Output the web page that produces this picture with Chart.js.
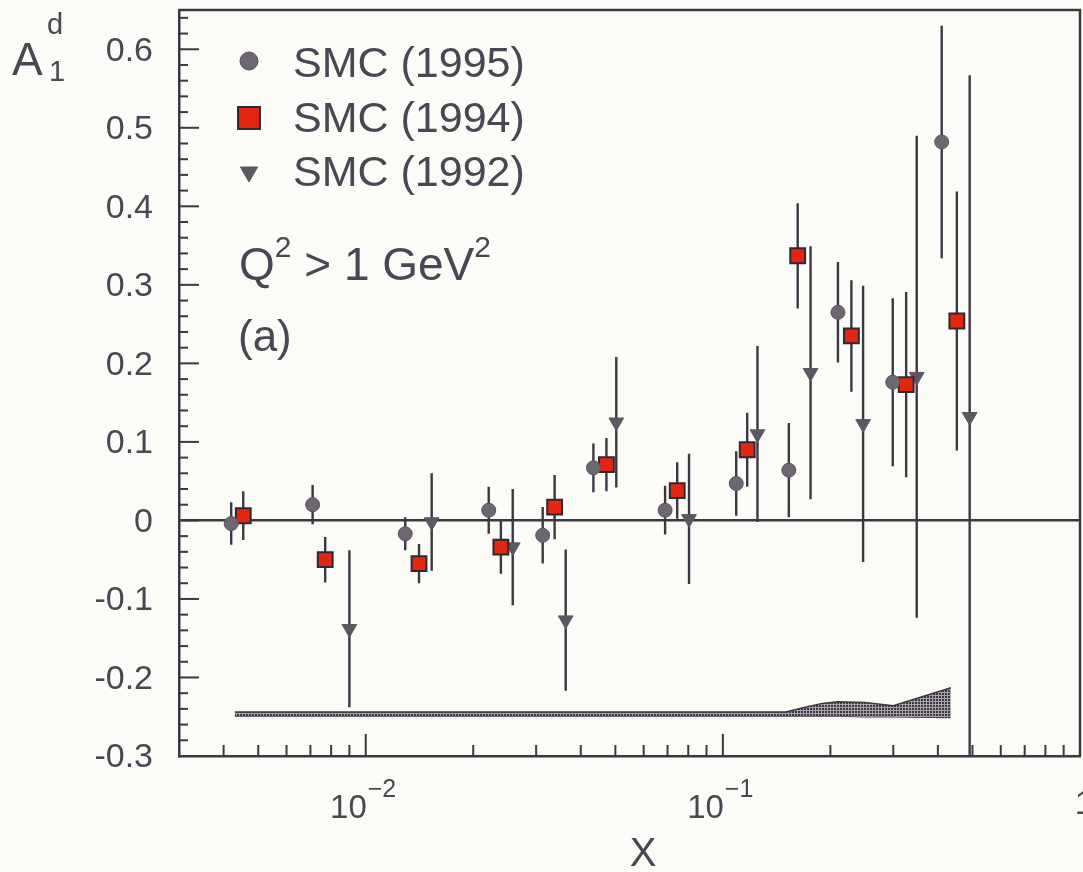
<!DOCTYPE html>
<html>
<head>
<meta charset="utf-8">
<script src="https://cdn.jsdelivr.net/npm/chart.js@4.4.1/dist/chart.umd.min.js"></script>
<style>
  html, body { margin: 0; padding: 0; background: #fbfbf8; }
  #wrap { width: 1083px; height: 872px; position: relative; }
</style>
</head>
<body>
<div id="wrap"><canvas id="a1d"></canvas></div>
<script>
// A1^d against x, SMC deuteron data
const x1995 = [0.0042, 0.0071, 0.0129, 0.0221, 0.0313, 0.0434, 0.0689, 0.109, 0.153, 0.210, 0.299, 0.410];
const a1995 = [-0.004, 0.020, -0.017, 0.013, -0.019, 0.067, 0.013, 0.047, 0.064, 0.265, 0.176, 0.482];
const e1995 = [0.027, 0.025, 0.021, 0.030, 0.036, 0.031, 0.031, 0.041, 0.060, 0.064, 0.107, 0.148];

const x1994 = [0.00454, 0.0077, 0.0141, 0.0239, 0.0338, 0.0472, 0.0745, 0.117, 0.162, 0.229, 0.326, 0.452];
const a1994 = [0.006, -0.050, -0.055, -0.034, 0.017, 0.071, 0.038, 0.090, 0.337, 0.235, 0.173, 0.254];
const e1994 = [0.031, 0.029, 0.025, 0.034, 0.041, 0.034, 0.036, 0.047, 0.067, 0.071, 0.118, 0.165];

const x1992 = [0.0090, 0.0153, 0.0258, 0.0363, 0.0503, 0.0804, 0.125, 0.176, 0.247, 0.349, 0.491];
const a1992 = [-0.138, -0.002, -0.034, -0.127, 0.125, 0.002, 0.110, 0.188, 0.123, 0.183, 0.132];
const e1992 = [0.100, 0.062, 0.074, 0.090, 0.083, 0.083, 0.112, 0.161, 0.176, 0.307, 0.435];

// systematic error band at the bottom
const xBand = [0.0043, 0.01, 0.03, 0.06, 0.1, 0.15, 0.17, 0.19, 0.21, 0.25, 0.3, 0.435];
const bandLo = [-0.249, -0.249, -0.249, -0.249, -0.249, -0.249, -0.249, -0.249, -0.249, -0.250, -0.250, -0.251];
const bandHi = [-0.244, -0.244, -0.244, -0.244, -0.244, -0.244, -0.238, -0.233, -0.231, -0.232, -0.236, -0.213];

const yTickLabels = [-0.3, -0.2, -0.1, 0, 0.1, 0.2, 0.3, 0.4, 0.5, 0.6];
const xTickLabels = [
  { v: 0.01, base: '10', exp: '\u22122' },
  { v: 0.1, base: '10', exp: '\u22121' },
  { v: 1, base: '1', exp: '' }
];
const legendLabels = ['SMC (1995)', 'SMC (1994)', 'SMC (1992)'];

const ink = '#3d3742';
const textCol = '#4b4652';
const FONT = '"Liberation Sans", Arial, sans-serif';

function pts(xs, ys) {
  return xs.map((x, i) => ({ x: x, y: ys[i] }));
}
function errBars(xs, ys, es) {
  const out = [];
  xs.forEach((x, i) => {
    out.push({ x: x, y: ys[i] - es[i] }, { x: x, y: ys[i] + es[i] }, { x: x, y: null });
  });
  return out;
}
function stipple() {
  const c = document.createElement('canvas');
  c.width = 3; c.height = 3;
  const g = c.getContext('2d');
  g.fillStyle = '#a8a3aa';
  g.fillRect(0, 0, 3, 3);
  g.fillStyle = ink;
  g.fillRect(0, 0, 2, 2);
  return g.createPattern(c, 'repeat');
}

const markers = [
  { style: 'circle', r: 7, bg: '#6d6772', bc: '#5a5460', bw: 1, rot: 0, lr: 9 },
  { style: 'rect', r: 10.5, bg: '#e3260f', bc: '#2f2a30', bw: 2, rot: 0, lr: 15.5 },
  { style: 'triangle', r: 8.5, bg: '#5d5762', bc: '#5d5762', bw: 1, rot: 180, lr: 10 }
];

function marker(ctx, m, x, y, r) {
  ctx.save();
  ctx.fillStyle = m.bg;
  ctx.strokeStyle = m.bc;
  ctx.lineWidth = m.bw;
  ctx.beginPath();
  if (m.style === 'circle') {
    ctx.arc(x, y, r, 0, Math.PI * 2);
  } else if (m.style === 'rect') {
    const s = r * Math.SQRT1_2;
    ctx.rect(x - s, y - s, 2 * s, 2 * s);
  } else {
    ctx.moveTo(x - r * 0.866, y - r * 0.5);
    ctx.lineTo(x + r * 0.866, y - r * 0.5);
    ctx.lineTo(x, y + r);
    ctx.closePath();
  }
  ctx.fill();
  ctx.stroke();
  ctx.restore();
}

// text with superscripts: parts = [text, size, raise]
function rich(ctx, x, y, parts) {
  ctx.save();
  ctx.textAlign = 'left';
  ctx.textBaseline = 'alphabetic';
  ctx.fillStyle = textCol;
  parts.forEach(p => {
    ctx.font = p[1] + 'px ' + FONT;
    ctx.fillText(p[0], x, y - (p[2] || 0));
    x += ctx.measureText(p[0]).width;
  });
  ctx.restore();
}

const decorations = {
  id: 'decorations',
  afterDraw(chart) {
    const ctx = chart.ctx;
    const a = chart.chartArea;
    const xs = chart.scales.x, ys = chart.scales.y;

    ctx.save();
    ctx.strokeStyle = ink;
    ctx.lineWidth = 2.5;
    // top and right frame
    ctx.beginPath();
    ctx.moveTo(a.left, a.top);
    ctx.lineTo(a.right, a.top);
    ctx.lineTo(a.right, a.bottom);
    ctx.stroke();

    // inward ticks on y axis
    ctx.lineWidth = 2;
    for (let k = -15; k <= 32; k++) {
      const v = k * 0.02;
      const py = ys.getPixelForValue(v);
      const len = k % 5 === 0 ? 20 : 9;
      ctx.beginPath();
      ctx.moveTo(a.left, py);
      ctx.lineTo(a.left + len, py);
      ctx.stroke();
    }
    // inward ticks on log x axis
    for (let d = -3; d <= 0; d++) {
      for (let k = 1; k <= 9; k++) {
        const v = k * Math.pow(10, d);
        if (v <= xs.min * 1.0001 || v >= xs.max * 0.9999) continue;
        const px = xs.getPixelForValue(v);
        const len = k === 1 ? 22 : 11;
        ctx.beginPath();
        ctx.moveTo(px, a.bottom);
        ctx.lineTo(px, a.bottom - len);
        ctx.stroke();
      }
    }
    ctx.restore();

    // y tick labels
    ctx.save();
    ctx.fillStyle = textCol;
    ctx.font = '34px ' + FONT;
    ctx.textAlign = 'right';
    ctx.textBaseline = 'middle';
    yTickLabels.forEach(v => {
      const txt = v === 0 ? '0' : v.toFixed(1);
      ctx.fillText(txt, 153, ys.getPixelForValue(v) + 2);
    });
    ctx.restore();

    // x tick labels with exponents
    xTickLabels.forEach(t => {
      const px = xs.getPixelForValue(t.v);
      ctx.save();
      ctx.fillStyle = textCol;
      ctx.font = '33px ' + FONT;
      if (t.exp) {
        ctx.textAlign = 'right';
        ctx.fillText(t.base, px + 1, 818);
        ctx.textAlign = 'left';
        ctx.font = '25px ' + FONT;
        ctx.fillText(t.exp, px + 2, 797);
      } else {
        ctx.textAlign = 'center';
        ctx.fillText(t.base, px + 4, 814);
      }
      ctx.restore();
    });

    // axis titles
    ctx.save();
    ctx.fillStyle = textCol;
    ctx.font = '40px ' + FONT;
    ctx.textAlign = 'center';
    ctx.fillText('X', 643, 866);
    ctx.restore();
    rich(ctx, 12, 75, [['A', 46, 0]]);
    rich(ctx, 47, 34, [['d', 29, 0]]);
    rich(ctx, 49, 81, [['1', 29, 0]]);

    // legend
    const rows = [61, 118, 172];
    const bases = [77, 132, 186];
    legendLabels.forEach((lab, i) => {
      marker(ctx, markers[i], 249, rows[i], markers[i].lr);
      rich(ctx, 293, bases[i], [[lab, 43, 0]]);
    });

    rich(ctx, 239, 280, [['Q', 46, 0], ['2', 30, 23], [' > 1 GeV', 46, 0], ['2', 30, 23]]);
    rich(ctx, 238, 351, [['(a)', 44, 0]]);
  }
};

const series = [[x1995, a1995, e1995], [x1994, a1994, e1994], [x1992, a1992, e1992]];
const datasets = [];
series.forEach((s, i) => {
  const m = markers[i];
  datasets.push({
    type: 'scatter',
    label: legendLabels[i],
    data: pts(s[0], s[1]),
    pointStyle: m.style,
    pointRadius: m.r,
    pointRotation: m.rot,
    pointBackgroundColor: m.bg,
    pointBorderColor: m.bc,
    pointBorderWidth: m.bw,
    order: 1
  });
});
series.forEach(s => {
  datasets.push({
    type: 'line',
    data: errBars(s[0], s[1], s[2]),
    borderColor: ink,
    borderWidth: 2.4,
    pointRadius: 0,
    spanGaps: false,
    fill: false,
    order: 2
  });
});
datasets.push({
  type: 'line',
  data: pts(xBand, bandHi),
  borderColor: ink,
  borderWidth: 1.5,
  backgroundColor: stipple(),
  pointRadius: 0,
  fill: '+1',
  order: 3
});
datasets.push({
  type: 'line',
  data: pts(xBand, bandLo),
  borderColor: ink,
  borderWidth: 1.5,
  pointRadius: 0,
  fill: false,
  order: 3
});

new Chart(document.getElementById('a1d'), {
  type: 'scatter',
  data: { datasets: datasets },
  options: {
    responsive: true,
    maintainAspectRatio: false,
    animation: false,
    events: [],
    layout: { autoPadding: false, padding: { top: 10, right: 3, bottom: 0, left: 0 } },
    plugins: { legend: { display: false }, tooltip: { enabled: false } },
    scales: {
      x: {
        type: 'logarithmic',
        min: 0.003,
        max: 1,
        afterFit: s => { s.height = 116; },
        grid: { display: false, drawTicks: false },
        border: { display: true, color: ink, width: 2.5 },
        ticks: { display: false, autoSkip: false }
      },
      y: {
        min: -0.3,
        max: 0.65,
        afterFit: s => { s.width = 179; },
        grid: {
          drawTicks: false,
          lineWidth: 2.4,
          color: c => (c.tick && Math.abs(c.tick.value) < 1e-9 ? ink : 'rgba(0,0,0,0)')
        },
        border: { display: true, color: ink, width: 2.5 },
        ticks: { display: false, stepSize: 0.1, includeBounds: false, autoSkip: false }
      }
    }
  },
  plugins: [decorations]
});
</script>
</body>
</html>
